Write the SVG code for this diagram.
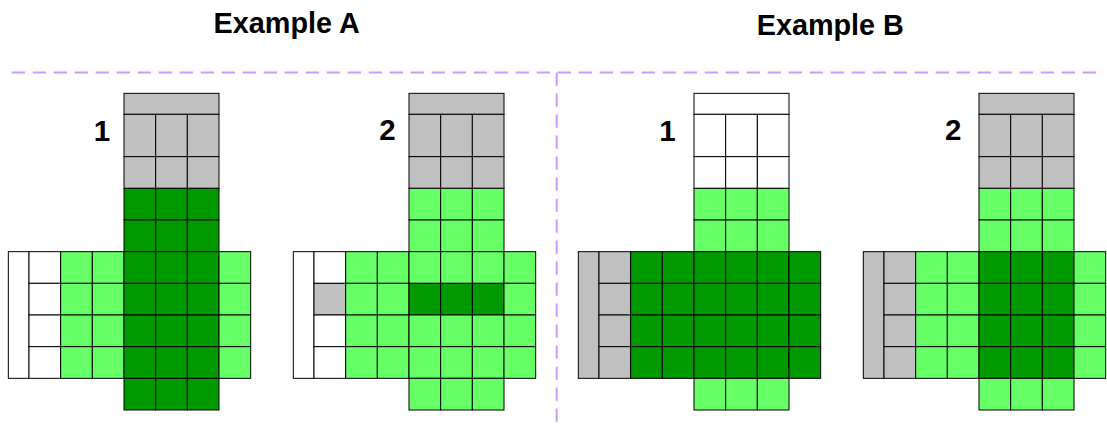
<svg xmlns="http://www.w3.org/2000/svg" width="1107" height="429" viewBox="0 0 1107 429">
<style>
.c rect{stroke:#000;stroke-width:1}
.g{fill:#c0c0c0}.d{fill:#009900}.l{fill:#66ff66}.w{fill:#ffffff}
.t{font-family:"Liberation Sans",Arial,sans-serif;font-weight:bold;fill:#000;text-anchor:middle}
.sep{stroke:#cc99ff;stroke-width:2;stroke-dasharray:13.3 7.7;fill:none}
</style>
<rect x="0" y="0" width="1107" height="429" style="fill:#fff;stroke:none"/>
<g id="separators">
<line class="sep" x1="11.7" y1="72.5" x2="1101.7" y2="72.5"/>
<line class="sep" x1="556.7" y1="72.5" x2="556.7" y2="429"/>
</g>
<g id="titles">
<text class="t" x="286.7" y="33.3" font-size="28.8">Example A</text>
<text class="t" x="830.3" y="35" font-size="28.8">Example B</text>
</g>
<g id="labels">
<text class="t" x="102" y="140.7" font-size="29.5">1</text>
<text class="t" x="387.5" y="140" font-size="29.5">2</text>
<text class="t" x="667.5" y="140.7" font-size="29.5">1</text>
<text class="t" x="953.3" y="140" font-size="29.5">2</text>
</g>
<g id="exampleA-1" class="c">
<rect class="g" x="124" y="93.33" width="95" height="21"/>
<rect class="g" x="124" y="114.33" width="31.67" height="42.33"/><rect class="g" x="155.67" y="114.33" width="31.67" height="42.33"/><rect class="g" x="187.33" y="114.33" width="31.67" height="42.33"/>
<rect class="g" x="124" y="156.67" width="31.67" height="31.67"/><rect class="g" x="155.67" y="156.67" width="31.67" height="31.67"/><rect class="g" x="187.33" y="156.67" width="31.67" height="31.67"/>
<rect class="d" x="124" y="188.33" width="31.67" height="31.67"/><rect class="d" x="155.67" y="188.33" width="31.67" height="31.67"/><rect class="d" x="187.33" y="188.33" width="31.67" height="31.67"/>
<rect class="d" x="124" y="220" width="31.67" height="31.67"/><rect class="d" x="155.67" y="220" width="31.67" height="31.67"/><rect class="d" x="187.33" y="220" width="31.67" height="31.67"/>
<rect class="w" x="8.33" y="251.67" width="20.67" height="126.67"/>
<rect class="w" x="29" y="251.67" width="31.67" height="31.67"/><rect class="l" x="60.67" y="251.67" width="31.67" height="31.67"/><rect class="l" x="92.33" y="251.67" width="31.67" height="31.67"/><rect class="d" x="124" y="251.67" width="31.67" height="31.67"/><rect class="d" x="155.67" y="251.67" width="31.67" height="31.67"/><rect class="d" x="187.33" y="251.67" width="31.67" height="31.67"/><rect class="l" x="219" y="251.67" width="31.67" height="31.67"/>
<rect class="w" x="29" y="283.33" width="31.67" height="31.67"/><rect class="l" x="60.67" y="283.33" width="31.67" height="31.67"/><rect class="l" x="92.33" y="283.33" width="31.67" height="31.67"/><rect class="d" x="124" y="283.33" width="31.67" height="31.67"/><rect class="d" x="155.67" y="283.33" width="31.67" height="31.67"/><rect class="d" x="187.33" y="283.33" width="31.67" height="31.67"/><rect class="l" x="219" y="283.33" width="31.67" height="31.67"/>
<rect class="w" x="29" y="315" width="31.67" height="31.67"/><rect class="l" x="60.67" y="315" width="31.67" height="31.67"/><rect class="l" x="92.33" y="315" width="31.67" height="31.67"/><rect class="d" x="124" y="315" width="31.67" height="31.67"/><rect class="d" x="155.67" y="315" width="31.67" height="31.67"/><rect class="d" x="187.33" y="315" width="31.67" height="31.67"/><rect class="l" x="219" y="315" width="31.67" height="31.67"/>
<rect class="w" x="29" y="346.67" width="31.67" height="31.67"/><rect class="l" x="60.67" y="346.67" width="31.67" height="31.67"/><rect class="l" x="92.33" y="346.67" width="31.67" height="31.67"/><rect class="d" x="124" y="346.67" width="31.67" height="31.67"/><rect class="d" x="155.67" y="346.67" width="31.67" height="31.67"/><rect class="d" x="187.33" y="346.67" width="31.67" height="31.67"/><rect class="l" x="219" y="346.67" width="31.67" height="31.67"/>
<rect class="d" x="124" y="378.33" width="31.67" height="31.67"/><rect class="d" x="155.67" y="378.33" width="31.67" height="31.67"/><rect class="d" x="187.33" y="378.33" width="31.67" height="31.67"/>
</g>
<g id="exampleA-2" class="c" transform="translate(285,0)">
<rect class="g" x="124" y="93.33" width="95" height="21"/>
<rect class="g" x="124" y="114.33" width="31.67" height="42.33"/><rect class="g" x="155.67" y="114.33" width="31.67" height="42.33"/><rect class="g" x="187.33" y="114.33" width="31.67" height="42.33"/>
<rect class="g" x="124" y="156.67" width="31.67" height="31.67"/><rect class="g" x="155.67" y="156.67" width="31.67" height="31.67"/><rect class="g" x="187.33" y="156.67" width="31.67" height="31.67"/>
<rect class="l" x="124" y="188.33" width="31.67" height="31.67"/><rect class="l" x="155.67" y="188.33" width="31.67" height="31.67"/><rect class="l" x="187.33" y="188.33" width="31.67" height="31.67"/>
<rect class="l" x="124" y="220" width="31.67" height="31.67"/><rect class="l" x="155.67" y="220" width="31.67" height="31.67"/><rect class="l" x="187.33" y="220" width="31.67" height="31.67"/>
<rect class="w" x="8.33" y="251.67" width="20.67" height="126.67"/>
<rect class="w" x="29" y="251.67" width="31.67" height="31.67"/><rect class="l" x="60.67" y="251.67" width="31.67" height="31.67"/><rect class="l" x="92.33" y="251.67" width="31.67" height="31.67"/><rect class="l" x="124" y="251.67" width="31.67" height="31.67"/><rect class="l" x="155.67" y="251.67" width="31.67" height="31.67"/><rect class="l" x="187.33" y="251.67" width="31.67" height="31.67"/><rect class="l" x="219" y="251.67" width="31.67" height="31.67"/>
<rect class="g" x="29" y="283.33" width="31.67" height="31.67"/><rect class="l" x="60.67" y="283.33" width="31.67" height="31.67"/><rect class="l" x="92.33" y="283.33" width="31.67" height="31.67"/><rect class="d" x="124" y="283.33" width="31.67" height="31.67"/><rect class="d" x="155.67" y="283.33" width="31.67" height="31.67"/><rect class="d" x="187.33" y="283.33" width="31.67" height="31.67"/><rect class="l" x="219" y="283.33" width="31.67" height="31.67"/>
<rect class="w" x="29" y="315" width="31.67" height="31.67"/><rect class="l" x="60.67" y="315" width="31.67" height="31.67"/><rect class="l" x="92.33" y="315" width="31.67" height="31.67"/><rect class="l" x="124" y="315" width="31.67" height="31.67"/><rect class="l" x="155.67" y="315" width="31.67" height="31.67"/><rect class="l" x="187.33" y="315" width="31.67" height="31.67"/><rect class="l" x="219" y="315" width="31.67" height="31.67"/>
<rect class="w" x="29" y="346.67" width="31.67" height="31.67"/><rect class="l" x="60.67" y="346.67" width="31.67" height="31.67"/><rect class="l" x="92.33" y="346.67" width="31.67" height="31.67"/><rect class="l" x="124" y="346.67" width="31.67" height="31.67"/><rect class="l" x="155.67" y="346.67" width="31.67" height="31.67"/><rect class="l" x="187.33" y="346.67" width="31.67" height="31.67"/><rect class="l" x="219" y="346.67" width="31.67" height="31.67"/>
<rect class="l" x="124" y="378.33" width="31.67" height="31.67"/><rect class="l" x="155.67" y="378.33" width="31.67" height="31.67"/><rect class="l" x="187.33" y="378.33" width="31.67" height="31.67"/>
</g>
<g id="exampleB-1" class="c" transform="translate(570,0)">
<rect class="w" x="124" y="93.33" width="95" height="21"/>
<rect class="w" x="124" y="114.33" width="31.67" height="42.33"/><rect class="w" x="155.67" y="114.33" width="31.67" height="42.33"/><rect class="w" x="187.33" y="114.33" width="31.67" height="42.33"/>
<rect class="w" x="124" y="156.67" width="31.67" height="31.67"/><rect class="w" x="155.67" y="156.67" width="31.67" height="31.67"/><rect class="w" x="187.33" y="156.67" width="31.67" height="31.67"/>
<rect class="l" x="124" y="188.33" width="31.67" height="31.67"/><rect class="l" x="155.67" y="188.33" width="31.67" height="31.67"/><rect class="l" x="187.33" y="188.33" width="31.67" height="31.67"/>
<rect class="l" x="124" y="220" width="31.67" height="31.67"/><rect class="l" x="155.67" y="220" width="31.67" height="31.67"/><rect class="l" x="187.33" y="220" width="31.67" height="31.67"/>
<rect class="g" x="8.33" y="251.67" width="20.67" height="126.67"/>
<rect class="g" x="29" y="251.67" width="31.67" height="31.67"/><rect class="d" x="60.67" y="251.67" width="31.67" height="31.67"/><rect class="d" x="92.33" y="251.67" width="31.67" height="31.67"/><rect class="d" x="124" y="251.67" width="31.67" height="31.67"/><rect class="d" x="155.67" y="251.67" width="31.67" height="31.67"/><rect class="d" x="187.33" y="251.67" width="31.67" height="31.67"/><rect class="d" x="219" y="251.67" width="31.67" height="31.67"/>
<rect class="g" x="29" y="283.33" width="31.67" height="31.67"/><rect class="d" x="60.67" y="283.33" width="31.67" height="31.67"/><rect class="d" x="92.33" y="283.33" width="31.67" height="31.67"/><rect class="d" x="124" y="283.33" width="31.67" height="31.67"/><rect class="d" x="155.67" y="283.33" width="31.67" height="31.67"/><rect class="d" x="187.33" y="283.33" width="31.67" height="31.67"/><rect class="d" x="219" y="283.33" width="31.67" height="31.67"/>
<rect class="g" x="29" y="315" width="31.67" height="31.67"/><rect class="d" x="60.67" y="315" width="31.67" height="31.67"/><rect class="d" x="92.33" y="315" width="31.67" height="31.67"/><rect class="d" x="124" y="315" width="31.67" height="31.67"/><rect class="d" x="155.67" y="315" width="31.67" height="31.67"/><rect class="d" x="187.33" y="315" width="31.67" height="31.67"/><rect class="d" x="219" y="315" width="31.67" height="31.67"/>
<rect class="g" x="29" y="346.67" width="31.67" height="31.67"/><rect class="d" x="60.67" y="346.67" width="31.67" height="31.67"/><rect class="d" x="92.33" y="346.67" width="31.67" height="31.67"/><rect class="d" x="124" y="346.67" width="31.67" height="31.67"/><rect class="d" x="155.67" y="346.67" width="31.67" height="31.67"/><rect class="d" x="187.33" y="346.67" width="31.67" height="31.67"/><rect class="d" x="219" y="346.67" width="31.67" height="31.67"/>
<rect class="l" x="124" y="378.33" width="31.67" height="31.67"/><rect class="l" x="155.67" y="378.33" width="31.67" height="31.67"/><rect class="l" x="187.33" y="378.33" width="31.67" height="31.67"/>
</g>
<g id="exampleB-2" class="c" transform="translate(855,0)">
<rect class="g" x="124" y="93.33" width="95" height="21"/>
<rect class="g" x="124" y="114.33" width="31.67" height="42.33"/><rect class="g" x="155.67" y="114.33" width="31.67" height="42.33"/><rect class="g" x="187.33" y="114.33" width="31.67" height="42.33"/>
<rect class="g" x="124" y="156.67" width="31.67" height="31.67"/><rect class="g" x="155.67" y="156.67" width="31.67" height="31.67"/><rect class="g" x="187.33" y="156.67" width="31.67" height="31.67"/>
<rect class="l" x="124" y="188.33" width="31.67" height="31.67"/><rect class="l" x="155.67" y="188.33" width="31.67" height="31.67"/><rect class="l" x="187.33" y="188.33" width="31.67" height="31.67"/>
<rect class="l" x="124" y="220" width="31.67" height="31.67"/><rect class="l" x="155.67" y="220" width="31.67" height="31.67"/><rect class="l" x="187.33" y="220" width="31.67" height="31.67"/>
<rect class="g" x="8.33" y="251.67" width="20.67" height="126.67"/>
<rect class="g" x="29" y="251.67" width="31.67" height="31.67"/><rect class="l" x="60.67" y="251.67" width="31.67" height="31.67"/><rect class="l" x="92.33" y="251.67" width="31.67" height="31.67"/><rect class="d" x="124" y="251.67" width="31.67" height="31.67"/><rect class="d" x="155.67" y="251.67" width="31.67" height="31.67"/><rect class="d" x="187.33" y="251.67" width="31.67" height="31.67"/><rect class="l" x="219" y="251.67" width="31.67" height="31.67"/>
<rect class="g" x="29" y="283.33" width="31.67" height="31.67"/><rect class="l" x="60.67" y="283.33" width="31.67" height="31.67"/><rect class="l" x="92.33" y="283.33" width="31.67" height="31.67"/><rect class="d" x="124" y="283.33" width="31.67" height="31.67"/><rect class="d" x="155.67" y="283.33" width="31.67" height="31.67"/><rect class="d" x="187.33" y="283.33" width="31.67" height="31.67"/><rect class="l" x="219" y="283.33" width="31.67" height="31.67"/>
<rect class="g" x="29" y="315" width="31.67" height="31.67"/><rect class="l" x="60.67" y="315" width="31.67" height="31.67"/><rect class="l" x="92.33" y="315" width="31.67" height="31.67"/><rect class="d" x="124" y="315" width="31.67" height="31.67"/><rect class="d" x="155.67" y="315" width="31.67" height="31.67"/><rect class="d" x="187.33" y="315" width="31.67" height="31.67"/><rect class="l" x="219" y="315" width="31.67" height="31.67"/>
<rect class="g" x="29" y="346.67" width="31.67" height="31.67"/><rect class="l" x="60.67" y="346.67" width="31.67" height="31.67"/><rect class="l" x="92.33" y="346.67" width="31.67" height="31.67"/><rect class="d" x="124" y="346.67" width="31.67" height="31.67"/><rect class="d" x="155.67" y="346.67" width="31.67" height="31.67"/><rect class="d" x="187.33" y="346.67" width="31.67" height="31.67"/><rect class="l" x="219" y="346.67" width="31.67" height="31.67"/>
<rect class="l" x="124" y="378.33" width="31.67" height="31.67"/><rect class="l" x="155.67" y="378.33" width="31.67" height="31.67"/><rect class="l" x="187.33" y="378.33" width="31.67" height="31.67"/>
</g>
</svg>
